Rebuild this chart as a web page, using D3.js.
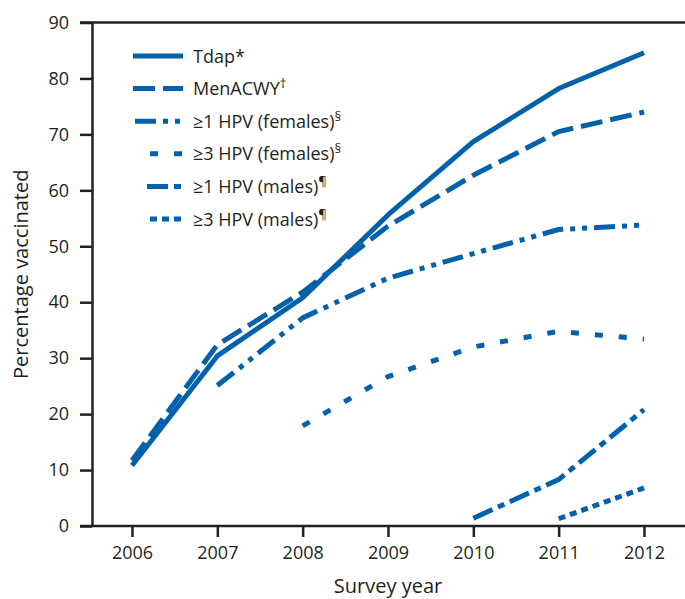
<!DOCTYPE html>
<html>
<head>
<meta charset="utf-8">
<script src="https://cdn.jsdelivr.net/npm/d3@7/dist/d3.min.js"></script>
<style>
  html, body { margin: 0; padding: 0; background: #fff; }
  svg { display: block; }
  text { font-family: "Open Sans", "Noto Sans", sans-serif; fill: #231f20; }
</style>
</head>
<body>
<svg id="chart" width="685" height="599"></svg>
<script>
// ---- Data ----
const years = [2006, 2007, 2008, 2009, 2010, 2011, 2012];
const yTicks = [0, 10, 20, 30, 40, 50, 60, 70, 80, 90];
const seriesNames = ["Tdap", "MenACWY", "≥1 HPV (females)", "≥3 HPV (females)", "≥1 HPV (males)", "≥3 HPV (males)"];
const seriesMarks = ["*", "†", "§", "§", "¶", "¶"];
const tdap      = [10.8, 30.4, 40.8, 55.6, 68.7, 78.2, 84.6];
const menacwy   = [11.7, 32.4, 41.8, 53.6, 62.7, 70.5, 74.0];
const hpv1F     = [null, 25.1, 37.2, 44.3, 48.7, 53.0, 53.8];
const hpv3F     = [null, null, 17.9, 26.7, 32.0, 34.8, 33.4];
const hpv1M     = [null, null, null, null, 1.4, 8.3, 20.8];
const hpv3M     = [null, null, null, null, null, 1.3, 6.8];
const seriesValues = [tdap, menacwy, hpv1F, hpv3F, hpv1M, hpv3M];

// ---- Styles ----
const blue = "#0061ab";
const dashes = [null, "22,8", "21,7,5,7,5,7", "8,16", "21,6,7,6", "7,5"];
const legendStartX = [133, 133, 135, 150, 147, 150];

const svg = d3.select("#chart");
const x = d3.scaleLinear().domain([2006, 2012]).range([132, 644]);
const y = d3.scaleLinear().domain([0, 90]).range([526, 22.5]);
const axisColor = "#231f20";

// frame lines
svg.append("line").attr("x1", 80).attr("x2", 685).attr("y1", y(90)).attr("y2", y(90))
  .attr("stroke", axisColor).attr("stroke-width", 2.5);
svg.append("line").attr("x1", 80).attr("x2", 685).attr("y1", y(0)).attr("y2", y(0))
  .attr("stroke", axisColor).attr("stroke-width", 2.5);

// y axis
const yAxis = svg.append("g").attr("transform", "translate(92,0)")
  .call(d3.axisLeft(y).tickValues(yTicks).tickSize(12).tickPadding(11).tickSizeOuter(0));
yAxis.select(".domain").attr("stroke", axisColor).attr("stroke-width", 2.5);
yAxis.selectAll(".tick line").attr("stroke", axisColor).attr("stroke-width", 2.5);
yAxis.selectAll(".tick text").style("font-size", "18px").attr("fill", axisColor);

// x axis
const xAxis = svg.append("g").attr("transform", `translate(0,${y(0)})`)
  .call(d3.axisBottom(x).tickValues(years).tickFormat(d3.format("d")).tickSize(11).tickPadding(9).tickSizeOuter(0));
xAxis.select(".domain").remove();
xAxis.selectAll(".tick line").attr("stroke", axisColor).attr("stroke-width", 2.5);
xAxis.selectAll(".tick text").style("font-size", "18px").attr("fill", axisColor);

// axis titles
svg.append("text").attr("x", x(2009)).attr("y", 593).attr("text-anchor", "middle")
  .style("font-size", "20px").text("Survey year");
svg.append("text").attr("transform", `translate(28,${(y(0)+y(90))/2}) rotate(-90)`)
  .attr("text-anchor", "middle").style("font-size", "20px").text("Percentage vaccinated");

// lines
const line = d3.line()
  .defined(d => d.v !== null)
  .x(d => x(d.year)).y(d => y(d.v))
  .curve(d3.curveLinear);

seriesValues.forEach((vals, i) => {
  const pts = years.map((yr, j) => ({ year: yr, v: vals[j] })).filter(d => d.v !== null);
  svg.append("path").datum(pts)
    .attr("d", line)
    .attr("fill", "none")
    .attr("stroke", blue)
    .attr("stroke-width", 5)
    .attr("stroke-linecap", "butt")
    .attr("stroke-linejoin", "round")
    .attr("stroke-dasharray", dashes[i]);
});

// legend
const legY = d3.scaleLinear().domain([0, 5]).range([56, 219]);
seriesNames.forEach((name, i) => {
  const yy = legY(i);
  svg.append("line").attr("x1", legendStartX[i]).attr("x2", 183)
    .attr("y1", yy).attr("y2", yy)
    .attr("stroke", blue).attr("stroke-width", 5)
    .attr("stroke-dasharray", dashes[i]);
  const t = svg.append("text").attr("x", 193).attr("y", yy + 6.5).style("font-size", "18px");
  t.append("tspan").text(name);
  if (seriesMarks[i] === "*") {
    t.append("tspan").text("*");
  } else {
    t.append("tspan").attr("dy", -7).style("font-size", "13px").text(seriesMarks[i]);
  }
});
</script>
</body>
</html>
